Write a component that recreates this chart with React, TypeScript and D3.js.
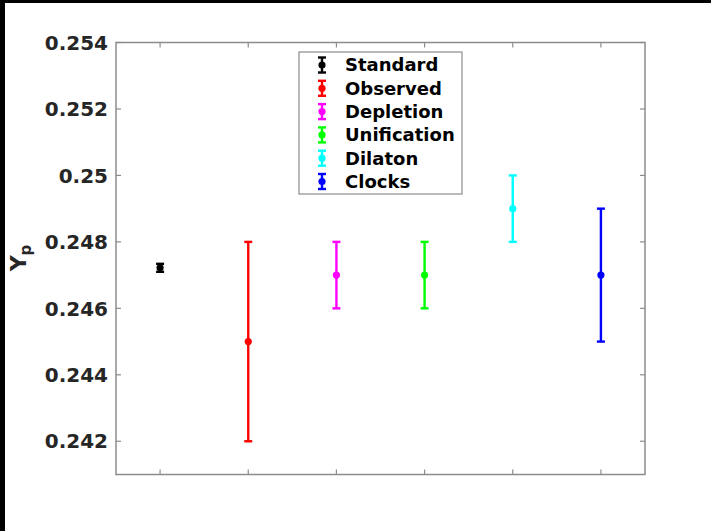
import React from "react";
import * as d3 from "d3";

const categories = ["Standard", "Observed", "Depletion", "Unification", "Dilaton", "Clocks"];
const positions = [1, 2, 3, 4, 5, 6];
const values = [0.24722, 0.245, 0.247, 0.247, 0.249, 0.247];
const errors = [0.00012, 0.003, 0.001, 0.001, 0.001, 0.002];
const colors = ["#000000", "#ff0000", "#ff00ff", "#00ff00", "#00ffff", "#0000ff"];
const yTicks = [0.242, 0.244, 0.246, 0.248, 0.25, 0.252, 0.254];
const xTicks = [1, 2, 3, 4, 5, 6];

const W = 711;
const H = 531;
const L = 116, R = 645, T = 42.5, B = 474.5;
const font = "'DejaVu Sans', sans-serif";
const axisColor = "#8c8c8c";
const textColor = "#262626";

export default function App() {
  const x = d3.scaleLinear().domain([0.5, 6.5]).range([L, R]);
  const y = d3.scaleLinear().domain([0.241, 0.254]).range([B, T]);
  const capW = 4;
  const tickLen = 5;
  const fmt = (v: number) => d3.format("")(+v.toFixed(3));

  const legX = 299, legY = 52, legW = 163, legH = 142;
  const rowH = 23.3;

  return (
    <svg width={W} height={H} style={{ position: "absolute", left: 0, top: 0, background: "#fff" }}>
      <rect x={0} y={0} width={W} height={H} fill="#fff" />
      <rect x={0} y={0} width={W} height={3} fill="#000" />
      <rect x={0} y={0} width={5} height={H} fill="#000" />

      {/* axes box */}
      <rect x={L} y={T} width={R - L} height={B - T} fill="none" stroke={axisColor} strokeWidth={1.5} />
      {yTicks.map((t) => (
        <g key={"y" + t}>
          <line x1={L} x2={L + tickLen} y1={y(t)} y2={y(t)} stroke={axisColor} strokeWidth={1.2} />
          <line x1={R} x2={R - tickLen} y1={y(t)} y2={y(t)} stroke={axisColor} strokeWidth={1.2} />
          <text x={L - 8} y={y(t)} dy="0.36em" textAnchor="end" fontFamily={font} fontWeight="bold" fontSize={20} fill={textColor}>
            {fmt(t)}
          </text>
        </g>
      ))}
      {xTicks.map((t) => (
        <g key={"x" + t}>
          <line x1={x(t)} x2={x(t)} y1={B} y2={B - tickLen} stroke={axisColor} strokeWidth={1.2} />
          <line x1={x(t)} x2={x(t)} y1={T} y2={T + tickLen} stroke={axisColor} strokeWidth={1.2} />
        </g>
      ))}

      {/* y label */}
      <text transform={`translate(26, 258) rotate(-90)`} fontFamily={font} fontWeight="bold" fontSize={22} fill={textColor} textAnchor="middle">
        Y<tspan fontSize={15} dy={5}>p</tspan>
      </text>

      {/* error bars */}
      {categories.map((c, i) => {
        const cx = x(positions[i]);
        const y0 = y(values[i] - errors[i]);
        const y1 = y(values[i] + errors[i]);
        return (
          <g key={c} stroke={colors[i]} fill={colors[i]}>
            <line x1={cx} x2={cx} y1={y0} y2={y1} strokeWidth={2.4} />
            <line x1={cx - capW} x2={cx + capW} y1={y0} y2={y0} strokeWidth={2.4} />
            <line x1={cx - capW} x2={cx + capW} y1={y1} y2={y1} strokeWidth={2.4} />
            <circle cx={cx} cy={y(values[i])} r={3.6} stroke="none" />
          </g>
        );
      })}

      {/* legend */}
      <rect x={legX} y={legY} width={legW} height={legH} fill="#fff" stroke={axisColor} strokeWidth={1.2} />
      {categories.map((c, i) => {
        const cy = legY + 13 + i * rowH;
        const ix = legX + 23;
        return (
          <g key={"leg" + c}>
            <g stroke={colors[i]} fill={colors[i]}>
              <line x1={ix} x2={ix} y1={cy - 7.5} y2={cy + 7.5} strokeWidth={2.4} />
              <line x1={ix - 4} x2={ix + 4} y1={cy - 7.5} y2={cy - 7.5} strokeWidth={2.4} />
              <line x1={ix - 4} x2={ix + 4} y1={cy + 7.5} y2={cy + 7.5} strokeWidth={2.4} />
              <circle cx={ix} cy={cy} r={3.6} stroke="none" />
            </g>
            <text x={legX + 46} y={cy} dy="0.36em" fontFamily={font} fontWeight="bold" fontSize={18} fill="#000">
              {c}
            </text>
          </g>
        );
      })}
    </svg>
  );
}
